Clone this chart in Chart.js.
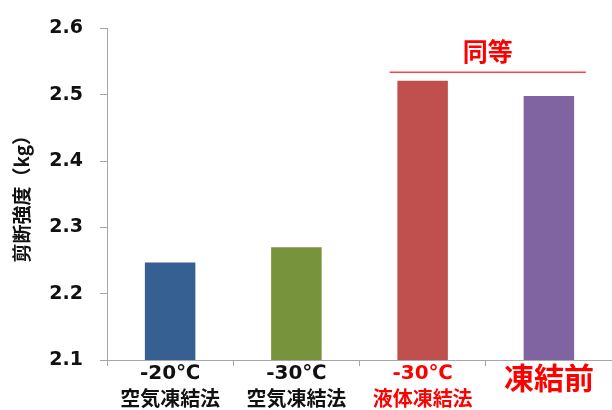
<!DOCTYPE html>
<html>
<head>
<meta charset="utf-8">
<script src="https://cdn.jsdelivr.net/npm/chart.js@4"></script>
<style>
  body { margin: 0; background: #fff; }
</style>
</head>
<body>
<canvas id="chart" width="612" height="410"></canvas>
<script>
// データ
var jouken = [["-20℃", "空気凍結法"], ["-30℃", "空気凍結法"], ["-30℃", "液体凍結法"], ["凍結前"]];
var kyoudo = [2.247, 2.27, 2.521, 2.498];
var iro = ["#376092", "#77933C", "#C0504D", "#8064A2"];
var labelIro = ["#111111", "#111111", "#FF0000", "#FF0000"];
var yTicks = [2.1, 2.2, 2.3, 2.4, 2.5, 2.6];

var fontFam = "'DejaVu Sans', 'Noto Sans CJK JP', sans-serif";
var jpFam = "'Noto Sans CJK JP', 'DejaVu Sans', sans-serif";

// 「同等」の線と文字
var doutou = {
  id: "doutou",
  afterDraw: function (chart) {
    var x = chart.scales.x, y = chart.scales.y, c = chart.ctx;
    var x1 = x.getPixelForValue(2) - 33;
    var x2 = x.getPixelForValue(3) + 37;
    var ly = y.getPixelForValue(2.534);
    c.save();
    c.strokeStyle = "#FF4040";
    c.lineWidth = 1.5;
    c.beginPath();
    c.moveTo(x1, ly);
    c.lineTo(x2, ly);
    c.stroke();
    c.fillStyle = "#FF0000";
    c.font = "bold 25px " + jpFam;
    c.textAlign = "center";
    c.textBaseline = "middle";
    c.fillText("同等", (x1 + x2) / 2, y.getPixelForValue(2.565));
    c.restore();
  },
};

var ctx = document.getElementById("chart").getContext("2d");
var chart = new Chart(ctx, {
  type: "bar",
  data: {
    labels: jouken,
    datasets: [
      {
        data: kyoudo,
        backgroundColor: iro,
        barPercentage: 0.4,
        categoryPercentage: 1,
      },
    ],
  },
  options: {
    responsive: false,
    animation: false,
    layout: { padding: { top: 26, right: -3, left: 0, bottom: 0 } },
    plugins: { legend: { display: false }, tooltip: { enabled: false } },
    scales: {
      x: {
        border: { color: "#A6A6A6", width: 1 },
        grid: { drawOnChartArea: false, tickLength: 6, color: "#A6A6A6", offset: true },
        afterFit: function (s) { s.height = 50; },
        ticks: {
          padding: -6,
          maxRotation: 0,
          autoSkip: false,
          color: function (c) { return labelIro[c.index]; },
          font: function (c) {
            if (c.index === 3) return { family: jpFam, size: 30, weight: "bold", lineHeight: 1.2 };
            return { family: fontFam, size: 20, weight: "bold", lineHeight: 1.35 };
          },
        },
      },
      y: {
        min: 2.1,
        max: 2.6,
        afterFit: function (s) { s.width = 107; },
        afterBuildTicks: function (s) { s.ticks = yTicks.map(function (v) { return { value: v }; }); },
        border: { color: "#A6A6A6", width: 1 },
        grid: { drawOnChartArea: false, tickLength: 7, color: "#A6A6A6" },
        ticks: {
          padding: 17,
          color: "#111111",
          font: { family: fontFam, size: 19, weight: "bold" },
          callback: function (v) { return v.toFixed(1); },
        },
        title: {
          display: true,
          text: "剪断強度（kg）",
          color: "#111111",
          font: { family: jpFam, size: 19, weight: "bold" },
          padding: { top: 10, bottom: 0 },
        },
      },
    },
  },
  plugins: [doutou],
});
</script>
</body>
</html>
